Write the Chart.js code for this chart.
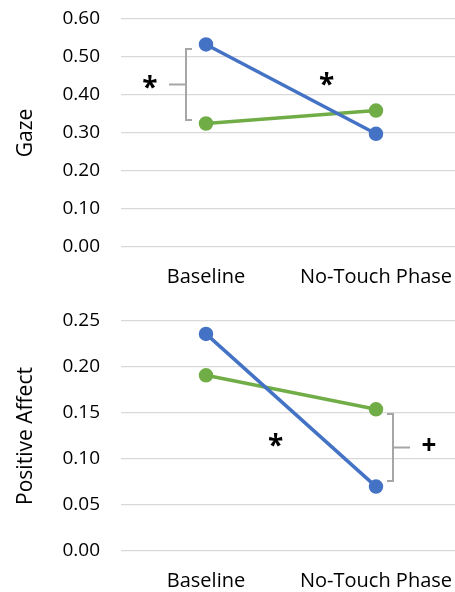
<!DOCTYPE html>
<html>
<head>
<meta charset="utf-8">
<script src="https://cdn.jsdelivr.net/npm/chart.js@4.4.1/dist/chart.umd.min.js"></script>
<style>
    html, body { margin: 0; padding: 0; background: #fff; overflow: hidden; }
    /* plot runs a few px past the right edge, like the original */
    .box { position: relative; width: 461px; height: 296px; }
</style>
</head>
<body>
<div class="box"><canvas id="gazeChart"></canvas></div>
<div class="box"><canvas id="affectChart"></canvas></div>
<script>
// Data
const phases = ['Baseline', 'No-Touch Phase'];
const gazeBlue = [0.533, 0.298];
const gazeGreen = [0.325, 0.359];
const affectBlue = [0.236, 0.070];
const affectGreen = [0.191, 0.154];
const gazeTicks = [0, 0.1, 0.2, 0.3, 0.4, 0.5, 0.6];
const affectTicks = [0, 0.05, 0.1, 0.15, 0.2, 0.25];

const BLUE = '#4472C4';
const GREEN = '#70AD47';
const FONT = "'Open Sans', sans-serif";

// Draws the significance marks (brackets, * and +)
const marksPlugin = {
    id: 'marks',
    afterDatasetsDraw(chart, args, opts) {
        const ctx = chart.ctx;
        const x = chart.scales.x, y = chart.scales.y;
        ctx.save();
        (opts.brackets || []).forEach(b => {
            let bx = x.getPixelForValue(b.cat) + b.dx;
            let y1 = y.getPixelForValue(b.from), y2 = y.getPixelForValue(b.to);
            let ym = (y1 + y2) / 2;
            ctx.strokeStyle = '#a6a6a6';
            ctx.lineWidth = 2;
            ctx.beginPath();
            ctx.moveTo(bx + b.side * 6, y1);
            ctx.lineTo(bx, y1);
            ctx.lineTo(bx, y2);
            ctx.lineTo(bx + b.side * 6, y2);
            ctx.moveTo(bx, ym);
            ctx.lineTo(bx - b.side * 17, ym);
            ctx.stroke();
        });
        ctx.fillStyle = '#000';
        ctx.textAlign = 'center';
        ctx.textBaseline = 'middle';
        (opts.labels || []).forEach(l => {
            ctx.font = 'bold ' + l.size + 'px ' + FONT;
            ctx.fillText(l.text, x.getPixelForValue(l.cat) + l.dx, y.getPixelForValue(l.val) + l.dy);
        });
        ctx.restore();
    }
};

function makeChart(id, title, blue, green, ticks, top, xHeight, marks) {
    let ctx = document.getElementById(id).getContext('2d');
    return new Chart(ctx, {
        type: 'line',
        data: {
            labels: phases,
            datasets: [
                { data: blue, borderColor: BLUE, backgroundColor: BLUE, borderWidth: 3.5, pointRadius: 5.5, pointHoverRadius: 5.5 },
                { data: green, borderColor: GREEN, backgroundColor: GREEN, borderWidth: 3.5, pointRadius: 5.5, pointHoverRadius: 5.5 }
            ]
        },
        options: {
            responsive: true,
            maintainAspectRatio: false,
            animation: false,
            layout: { autoPadding: false, padding: { top: top, right: 0, left: 0, bottom: 0 } },
            plugins: {
                legend: { display: false },
                tooltip: { enabled: false },
                marks: marks
            },
            scales: {
                x: {
                    offset: true,
                    grid: { display: false },
                    border: { display: false },
                    ticks: { color: '#000', font: { family: FONT, size: 20 }, padding: 10, maxRotation: 0 },
                    afterFit: s => { s.height = xHeight; s.paddingLeft = 0; s.paddingRight = 0; }
                },
                y: {
                    min: ticks[0],
                    max: ticks[ticks.length - 1],
                    afterBuildTicks: s => { s.ticks = ticks.map(v => ({ value: v })); },
                    grid: { color: '#d9d9d9', lineWidth: 1.2, drawTicks: false },
                    border: { display: false },
                    ticks: {
                        color: '#000',
                        font: { family: FONT, size: 19 },
                        padding: 21,
                        callback: v => v.toFixed(2)
                    },
                    title: {
                        display: true,
                        text: title,
                        color: '#000',
                        font: { family: FONT, size: 21 },
                        padding: { top: 13, bottom: 0 }
                    },
                    afterFit: s => { s.width = 121; s.paddingTop = 0; s.paddingBottom = 0; }
                }
            }
        },
        plugins: [marksPlugin]
    });
}

makeChart('gazeChart', 'Gaze', gazeBlue, gazeGreen, gazeTicks, 19, 49, {
    brackets: [{ cat: 0, dx: -20, from: 0.521, to: 0.334, side: 1 }],
    labels: [
        { text: '*', cat: 0, dx: -56, val: 0.432, dy: 6, size: 28 },
        { text: '*', cat: 0.71, dx: 0, val: 0.44, dy: 6, size: 28 }
    ]
});

makeChart('affectChart', 'Positive Affect', affectBlue, affectGreen, affectTicks, 25, 41, {
    brackets: [{ cat: 1, dx: 17, from: 0.149, to: 0.076, side: -1 }],
    labels: [
        { text: '*', cat: 0.41, dx: 0, val: 0.1196, dy: 6, size: 28 },
        { text: '+', cat: 1, dx: 53, val: 0.114, dy: 0, size: 26 }
    ]
});
</script>
</body>
</html>
